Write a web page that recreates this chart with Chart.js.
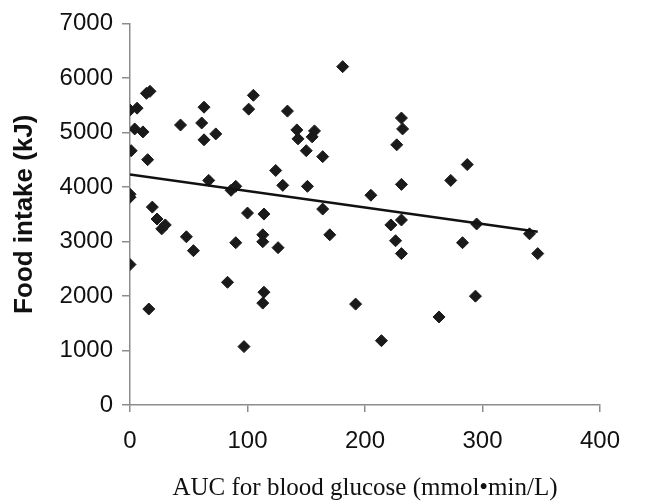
<!DOCTYPE html>
<html>
<head>
<meta charset="utf-8">
<script src="https://cdn.jsdelivr.net/npm/chart.js@4"></script>
<style>
  html, body { margin: 0; padding: 0; background: #fff; }
  #wrap { width: 654px; height: 504px; }
</style>
</head>
<body>
<div id="wrap"><canvas id="scatter"></canvas></div>
<script>
// AUC for blood glucose (x) vs food intake (y)
const aucValues = [
  0, 6, 14, 17, 4, 11, 1, 15, 43, 63, 61, 63, 73, 105, 101, 67, 86, 90,
  0, 0, 19, 23, 27, 30, 48, 54, 0, 90, 83, 16, 97, 100, 181, 134, 142, 143,
  157, 155, 150, 164, 124, 130, 151, 205, 164, 114, 113, 113, 126, 170, 114, 113,
  192, 231, 232, 227, 287, 273, 231, 222, 231, 295, 340, 226, 231, 283, 347, 294,
  263, 214
];
const intakeValues = [
  5410, 5445, 5717, 5754, 5064, 5010, 4665, 4500, 5136, 5463, 5173, 4864, 4973, 5681, 5427, 4120, 3939, 4011,
  3866, 3812, 3630, 3412, 3231, 3303, 3086, 2831, 2577, 2977, 2251, 1761, 1071, 3521, 6207, 5391, 5046, 4882,
  5028, 4919, 4665, 4556, 4302, 4029, 4011, 3848, 3594, 3503, 3122, 2995, 2886, 3122, 2069, 1869,
  1851, 5264, 5064, 4773, 4410, 4120, 4047, 3303, 3394, 3321, 3140, 3013, 2777, 2977, 2777, 1997,
  1615, 1180
];

// regression line end points
const trendX = [0, 347];
const trendY = [4230, 3180];

const xTicks = [0, 100, 200, 300, 400];
const yTicks = [0, 1000, 2000, 3000, 4000, 5000, 6000, 7000];

const points = aucValues.map((x, i) => ({ x: x, y: intakeValues[i] }));
const trend = trendX.map((x, i) => ({ x: x, y: trendY[i] }));

const axisGrey = '#8c8c8c';

new Chart(document.getElementById('scatter'), {
  type: 'scatter',
  data: {
    datasets: [
      {
        type: 'line',
        data: trend,
        borderColor: '#111',
        borderWidth: 2.5,
        pointRadius: 0,
        fill: false
      },
      {
        data: points,
        pointStyle: 'rectRot',
        pointRadius: 6,
        pointBackgroundColor: '#1a1a1a',
        pointBorderColor: '#1a1a1a',
        pointBorderWidth: 1
      }
    ]
  },
  options: {
    responsive: true,
    maintainAspectRatio: false,
    animation: false,
    layout: { padding: { top: 19, right: 54, left: 0, bottom: 0 } },
    plugins: {
      legend: { display: false },
      tooltip: { enabled: false }
    },
    scales: {
      x: {
        type: 'linear',
        min: 0,
        max: 400,
        afterBuildTicks: s => { s.ticks = xTicks.map(v => ({ value: v })); },
        afterFit: s => { s.height = 99; },
        grid: { drawOnChartArea: false, drawTicks: true, tickLength: 7, color: axisGrey, lineWidth: 1.5 },
        border: { color: axisGrey, width: 1.5 },
        ticks: {
          color: '#111',
          padding: 15,
          callback: v => String(v),
          font: { family: 'Liberation Sans, Arial, sans-serif', size: 24 }
        },
        title: {
          display: true,
          text: 'AUC for blood glucose (mmol•min/L)',
          color: '#111',
          padding: { top: 0, bottom: 1 },
          font: { family: 'Liberation Serif, Times New Roman, serif', size: 25 }
        }
      },
      y: {
        type: 'linear',
        min: 0,
        max: 7000,
        afterBuildTicks: s => { s.ticks = yTicks.map(v => ({ value: v })); },
        afterFit: s => { s.width = 130; },
        grid: { drawOnChartArea: false, drawTicks: true, tickLength: 8, color: axisGrey, lineWidth: 1.5 },
        border: { color: axisGrey, width: 1.5 },
        ticks: {
          color: '#111',
          padding: 9,
          callback: v => String(v),
          font: { family: 'Liberation Sans, Arial, sans-serif', size: 24 }
        },
        title: {
          display: true,
          text: 'Food intake (kJ)',
          color: '#111',
          padding: { top: 9, bottom: 0 },
          font: { family: 'Liberation Sans, Arial, sans-serif', size: 26, weight: 'bold' }
        }
      }
    }
  }
});
</script>
</body>
</html>
